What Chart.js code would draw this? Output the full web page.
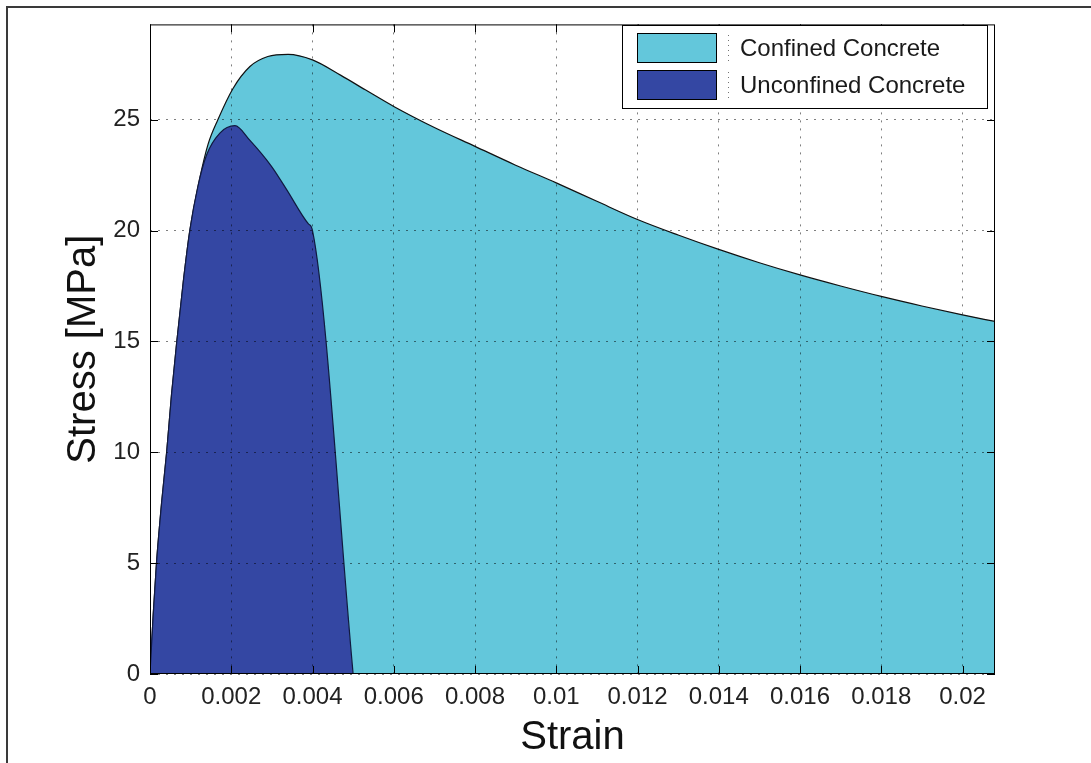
<!DOCTYPE html>
<html>
<head>
<meta charset="utf-8">
<title>Stress-Strain</title>
<script src="https://cdn.jsdelivr.net/npm/chart.js@4.4.1/dist/chart.umd.min.js"></script>
<style>
  html, body { margin: 0; padding: 0; background: #fff; }
  .wrap { position: relative; width: 1091px; height: 763px; overflow: hidden; }
  .frame { position: absolute; left: 6px; top: 6px; width: 1200px; height: 900px;
           border-top: 2px solid #3a3a3a; border-left: 2px solid #3a3a3a; }
  canvas { position: absolute; left: 0; top: 0; }
</style>
</head>
<body>
<div class="wrap">
  <div class="frame"></div>
  <canvas id="chart" width="1091" height="763"></canvas>
</div>
<script>
// stress-strain curves, strain [-] vs stress [MPa]
const confinedStrain = [0, 0.00008, 0.00016, 0.00029, 0.00041, 0.00053, 0.00066, 0.00082, 0.00098,
  0.00123, 0.00143, 0.00167, 0.00204, 0.00246, 0.0029, 0.0034, 0.004, 0.0047, 0.0053, 0.006,
  0.007, 0.008, 0.009, 0.01, 0.011, 0.012, 0.013, 0.014, 0.015, 0.016, 0.017, 0.018, 0.019, 0.02, 0.0208];
const confinedStress = [0, 2.7, 5.0, 7.8, 10.0, 12.6, 15.0, 17.7, 20.0,
  22.4, 23.9, 25.0, 26.4, 27.4, 27.85, 27.95, 27.7, 27.0, 26.35, 25.6,
  24.65, 23.8, 22.95, 22.15, 21.32, 20.5, 19.8, 19.15, 18.55, 18.0, 17.5, 17.03, 16.6, 16.2, 15.9];

const unconfinedStrain = [0, 0.00008, 0.00016, 0.00029, 0.00041, 0.00053, 0.00066, 0.00082, 0.00098,
  0.00118, 0.00139, 0.00172, 0.00209, 0.00246, 0.00299, 0.00336, 0.0039, 0.004, 0.005];
const unconfinedStress = [0, 2.7, 5.0, 7.8, 10.0, 12.6, 15.0, 17.7, 20.0,
  22.0, 23.4, 24.4, 24.73, 24.07, 22.9, 21.86, 20.3, 20.0, 0];

const seriesNames = ['Confined Concrete', 'Unconfined Concrete'];
const seriesColors = ['#63c7db', '#3447a3'];

const xTicks = [0, 0.002, 0.004, 0.006, 0.008, 0.01, 0.012, 0.014, 0.016, 0.018, 0.02];
const yTicks = [0, 5, 10, 15, 20, 25];

const toPoints = (xs, ys) => xs.map((x, i) => ({ x: x, y: ys[i] }));

const tickFont = { family: '"Liberation Sans", Arial, sans-serif', size: 24 };
const titleFont = { family: '"Liberation Sans", Arial, sans-serif', size: 40 };
// dotted grid, drawn over the filled areas
const gridStyle = { color: 'rgba(0,0,0,0.5)', lineWidth: 1, drawTicks: false, z: 1 };

// box around the axes, inward tick marks, legend box
const axesBox = {
  id: 'axesBox',
  afterDraw(chart) {
    const { ctx, chartArea: a, scales } = chart;
    ctx.save();
    ctx.strokeStyle = '#000';
    ctx.lineWidth = 1;
    ctx.strokeRect(a.left + 0.5, a.top + 0.5, a.right - a.left - 1, a.bottom - a.top - 1);
    ctx.beginPath();
    scales.x.ticks.forEach(t => {
      const px = Math.round(scales.x.getPixelForValue(t.value)) + 0.5;
      ctx.moveTo(px, a.bottom); ctx.lineTo(px, a.bottom - 8);
      ctx.moveTo(px, a.top); ctx.lineTo(px, a.top + 8);
    });
    scales.y.ticks.forEach(t => {
      const py = Math.round(scales.y.getPixelForValue(t.value)) + 0.5;
      ctx.moveTo(a.left, py); ctx.lineTo(a.left + 8, py);
      ctx.moveTo(a.right, py); ctx.lineTo(a.right - 8, py);
    });
    ctx.stroke();

    // legend
    const lx = 622, ly = 25, lw = 365, lh = 83;
    ctx.fillStyle = '#fff';
    ctx.fillRect(lx, ly, lw, lh);
    ctx.strokeRect(lx + 0.5, ly + 0.5, lw, lh);
    ctx.font = '24px "Liberation Sans", Arial, sans-serif';
    ctx.textBaseline = 'middle';
    seriesNames.forEach((name, i) => {
      const sy = 33 + i * 37;
      ctx.fillStyle = seriesColors[i];
      ctx.fillRect(637, sy, 79, 29);
      ctx.strokeStyle = '#000';
      ctx.setLineDash([]);
      ctx.strokeRect(637.5, sy + 0.5, 79, 29);
      // dotted line sample
      ctx.strokeStyle = 'rgba(0,0,0,0.55)';
      ctx.setLineDash([1, 4]);
      ctx.beginPath();
      ctx.moveTo(728.5, sy + 2); ctx.lineTo(728.5, sy + 29);
      ctx.stroke();
      ctx.setLineDash([]);
      ctx.fillStyle = '#1a1a1a';
      ctx.fillText(name, 740, sy + 16);
    });
    ctx.restore();
  }
};

new Chart(document.getElementById('chart'), {
  type: 'line',
  data: {
    datasets: [
      {
        label: seriesNames[0],
        data: toPoints(confinedStrain, confinedStress),
        backgroundColor: seriesColors[0],
        borderColor: '#111',
        borderWidth: 1.2,
        fill: 'origin',
        pointRadius: 0,
        cubicInterpolationMode: 'monotone',
        order: 2
      },
      {
        label: seriesNames[1],
        data: toPoints(unconfinedStrain, unconfinedStress),
        backgroundColor: seriesColors[1],
        borderColor: '#111a40',
        borderWidth: 1.2,
        fill: 'origin',
        pointRadius: 0,
        cubicInterpolationMode: 'monotone',
        order: 1
      }
    ]
  },
  options: {
    responsive: false,
    animation: false,
    events: [],
    layout: { padding: { left: 0, top: 12, right: 96, bottom: 0 } },
    plugins: { legend: { display: false }, tooltip: { enabled: false } },
    scales: {
      x: {
        type: 'linear',
        min: 0,
        max: 0.0208,
        afterFit: s => { s.height = 89; },
        afterBuildTicks: s => { s.ticks = xTicks.map(v => ({ value: v })); },
        border: { display: false, dash: [2, 6] },
        grid: gridStyle,
        ticks: {
          font: tickFont,
          color: '#222',
          padding: 9,
          maxRotation: 0,
          autoSkip: false,
          callback: v => String(Number(v.toFixed(4)))
        },
        title: { display: true, text: 'Strain', font: titleFont, color: '#111', padding: { top: 0, bottom: 1 } }
      },
      y: {
        type: 'linear',
        min: 0,
        max: 29.3,
        afterFit: s => { s.width = 150; },
        afterBuildTicks: s => { s.ticks = yTicks.map(v => ({ value: v })); },
        border: { display: false, dash: [2, 6] },
        grid: gridStyle,
        ticks: { font: tickFont, color: '#222', padding: 10, callback: v => String(v) },
        title: { display: true, text: 'Stress [MPa]', font: titleFont, color: '#111', padding: { top: 60, bottom: 0 } }
      }
    }
  },
  plugins: [axesBox]
});
</script>
</body>
</html>
